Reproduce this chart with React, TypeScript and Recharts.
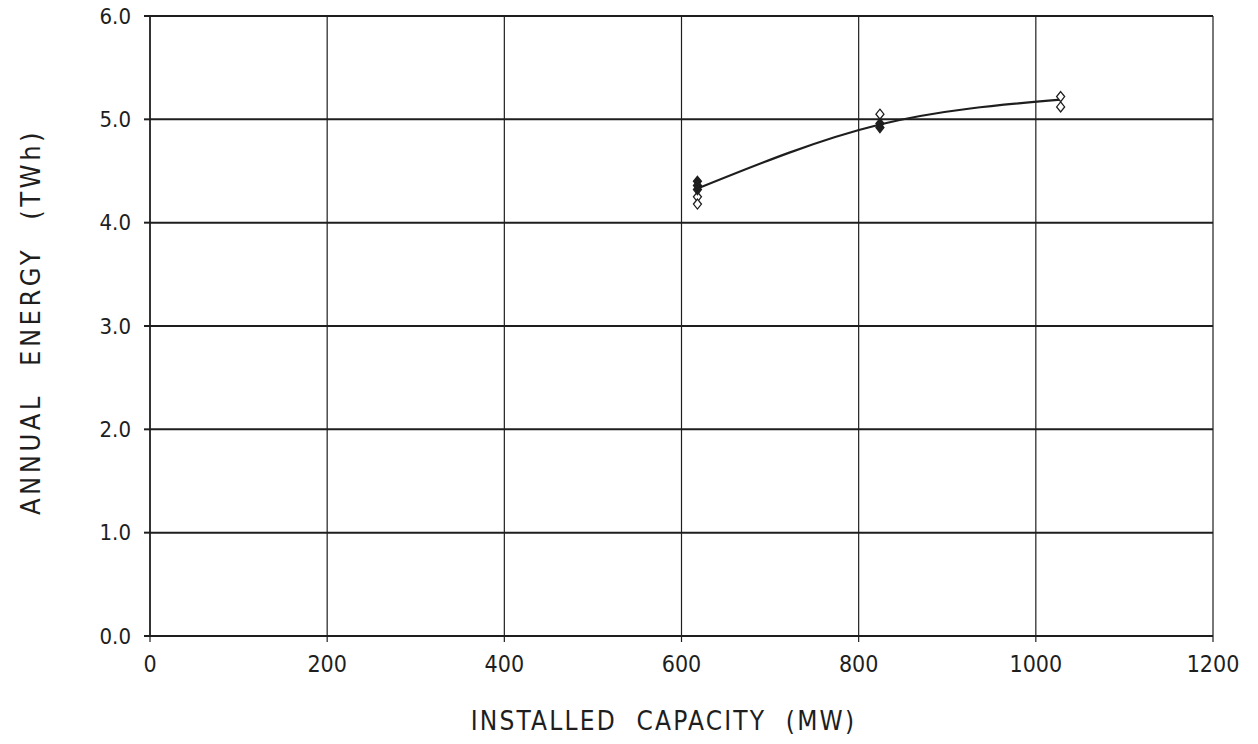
import React from "react";
import {
  ComposedChart,
  Line,
  Scatter,
  XAxis,
  YAxis,
  CartesianGrid,
  Label,
} from "recharts";

const xTicks = [0, 200, 400, 600, 800, 1000, 1200];
const yTicks = [0, 1, 2, 3, 4, 5, 6];

const curveCapacity = [618, 824, 1028];
const curveEnergy = [4.33, 4.95, 5.19];

const filledCapacity = [618, 618, 618, 824, 824];
const filledEnergy = [4.4, 4.36, 4.32, 4.96, 4.92];

const openCapacity = [618, 618, 824, 1028, 1028];
const openEnergy = [4.25, 4.18, 5.05, 5.22, 5.12];

const curveData = curveCapacity.map((x, i) => ({ x, y: curveEnergy[i] }));
const filledData = filledCapacity.map((x, i) => ({ x, y: filledEnergy[i] }));
const openData = openCapacity.map((x, i) => ({ x, y: openEnergy[i] }));

const FONT = "'DejaVu Sans Condensed', 'DejaVu Sans', 'Liberation Sans', sans-serif";
const INK = "#1e1e1e";

const Diamond = (filled: boolean) => (props: any) => {
  const { cx, cy } = props;
  if (cx == null || cy == null) return null;
  const w = 4;
  const h = 5;
  return (
    <path
      d={`M${cx},${cy - h}L${cx + w},${cy}L${cx},${cy + h}L${cx - w},${cy}Z`}
      fill={filled ? INK : "#fff"}
      stroke={INK}
      strokeWidth={1.3}
    />
  );
};

export default function App() {
  return (
    <div
      style={{
        position: "absolute",
        left: 0,
        top: 0,
        width: 1258,
        height: 744,
        background: "#fff",
      }}
    >
      <ComposedChart
        width={1258}
        height={744}
        margin={{ top: 16, right: 45, bottom: 58, left: 70 }}
      >
        <CartesianGrid horizontal={false} stroke={INK} strokeWidth={1.2} />
        <CartesianGrid vertical={false} stroke={INK} strokeWidth={2} />
        <XAxis
          type="number"
          dataKey="x"
          domain={[0, 1200]}
          ticks={xTicks}
          allowDataOverflow
          axisLine={{ stroke: INK, strokeWidth: 2 }}
          tickLine={{ stroke: INK, strokeWidth: 1.2 }}
          tickSize={6}
          tickMargin={14}
          tick={{ fill: INK, fontSize: 23, fontFamily: FONT }}
          height={50}
        >
          <Label
            value="INSTALLED CAPACITY (MW)"
            position="bottom"
            offset={26}
            dx={-18}
            style={{
              fill: INK,
              fontSize: 26,
              fontFamily: FONT,
              letterSpacing: 2.2,
              wordSpacing: 10,
            }}
          />
        </XAxis>
        <YAxis
          type="number"
          dataKey="y"
          domain={[0, 6]}
          ticks={yTicks}
          allowDataOverflow
          tickFormatter={(v: number) => v.toFixed(1)}
          axisLine={{ stroke: INK, strokeWidth: 1.5 }}
          tickLine={{ stroke: INK, strokeWidth: 2 }}
          tickSize={6}
          tickMargin={13}
          tick={{ fill: INK, fontSize: 22, fontFamily: FONT }}
          width={80}
        >
          <Label
            value="ANNUAL ENERGY (TWh)"
            angle={-90}
            position="left"
            offset={40}
            dy={-4}
            style={{
              fill: INK,
              fontSize: 27,
              fontFamily: FONT,
              letterSpacing: 3.5,
              wordSpacing: 16,
              textAnchor: "middle",
            }}
          />
        </YAxis>
        <Line
          data={curveData}
          dataKey="y"
          type="monotone"
          stroke={INK}
          strokeWidth={2.2}
          dot={false}
          activeDot={false}
          isAnimationActive={false}
        />
        <Scatter
          data={openData}
          dataKey="y"
          shape={Diamond(false)}
          isAnimationActive={false}
        />
        <Scatter
          data={filledData}
          dataKey="y"
          shape={Diamond(true)}
          isAnimationActive={false}
        />
      </ComposedChart>
    </div>
  );
}
